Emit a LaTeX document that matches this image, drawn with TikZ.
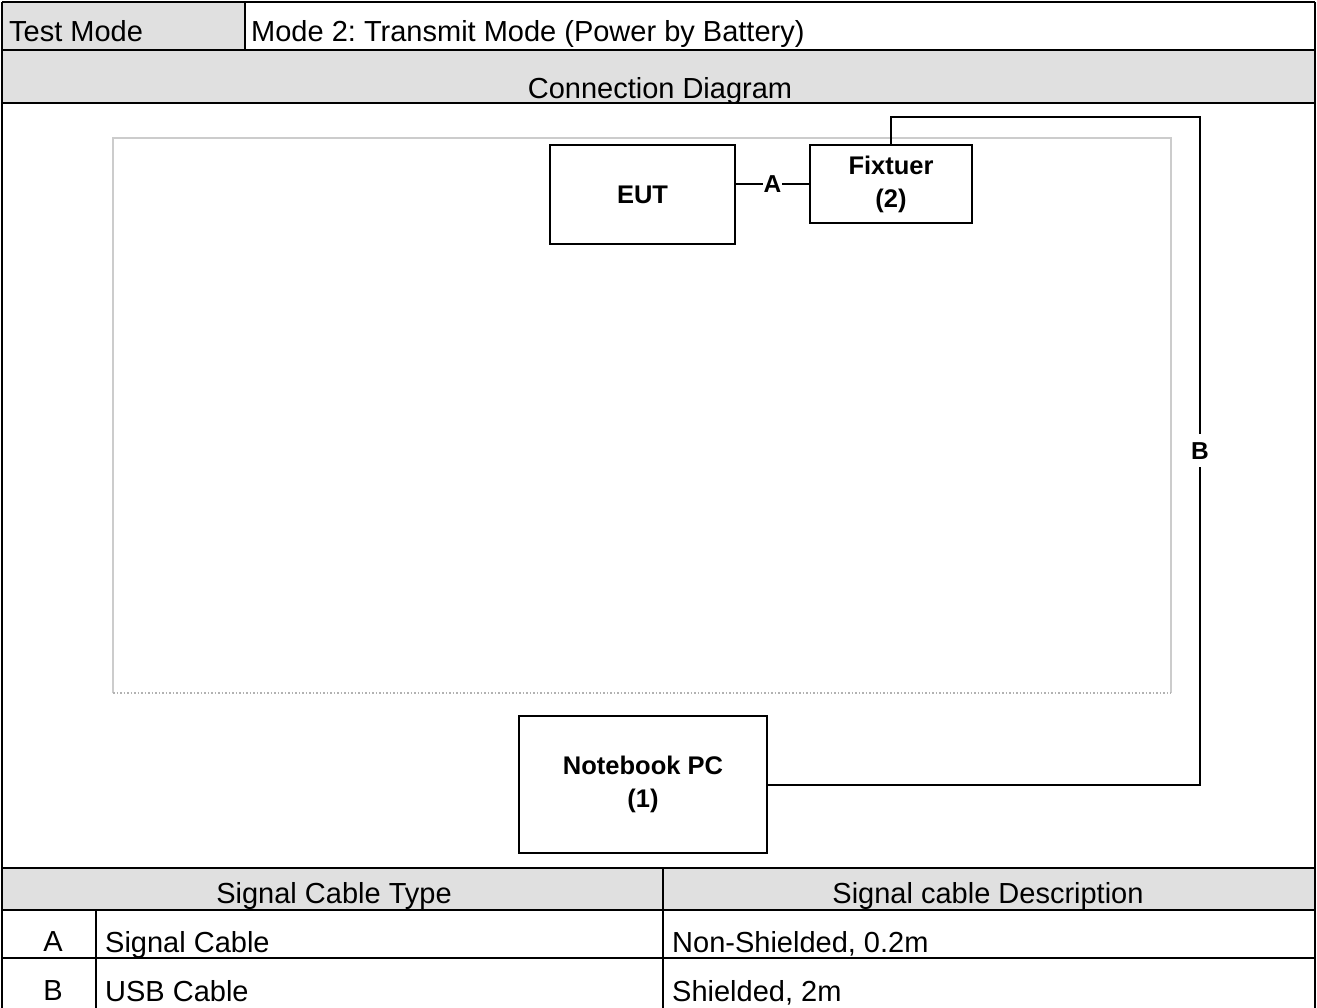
\documentclass[tikz,border=0pt]{standalone}
\usepackage{fontspec}
\setmainfont{Liberation Sans}
\begin{document}
\frenchspacing
\begin{tikzpicture}[x=1pt,y=-1pt,
  grid/.style={line width=2.6pt,black},
  hdr/.style={fill=black!12},
  txt/.style={inner sep=0pt,anchor=base,font=\fontsize{29}{33}\selectfont},
  ltxt/.style={txt,anchor=base west},
  dbox/.style={draw,line width=2.6pt,inner sep=0pt,align=center,font=\fontsize{25.5}{33}\selectfont\bfseries},
  wire/.style={line width=2pt},
  lbl/.style={fill=white,inner xsep=0.5pt,inner ysep=8pt,font=\fontsize{24.5}{26}\selectfont\bfseries}]
\useasboundingbox (0,0) rectangle (1317,1008);
% header fills
\fill[hdr] (2,2) rectangle (245,50);
\fill[hdr] (2,50) rectangle (1315,103);
\fill[hdr] (2,868) rectangle (1315,910);
% grid lines
\draw[grid] (2,2) -- (1315,2);
\draw[grid] (2,2) -- (2,1012);
\draw[grid] (1315,2) -- (1315,1012);
\draw[grid] (2,50) -- (1315,50);
\draw[grid] (2,103) -- (1315,103);
\draw[grid] (2,868) -- (1315,868);
\draw[grid] (2,910) -- (1315,910);
\draw[grid] (2,958) -- (1315,958);
\draw[grid] (245,2) -- (245,50);
\draw[grid] (663,868) -- (663,1012);
\draw[grid] (96,910) -- (96,1012);
% texts
\node[ltxt] (tm) at (9,42) {Test Mode};
\node[ltxt] (md) at (251,42) {Mode 2: Transmit Mode (Power by Battery)};
\node[txt] (cd) at (660,99) {Connection Diagram};
\node[txt] (sct) at (334,903) {Signal Cable Type};
\node[txt] (scd) at (988,903) {Signal cable Description};
\node[txt] (ra) at (53,951) {A};
\node[ltxt] (ra1) at (105,952) {Signal Cable};
\node[ltxt] (ra2) at (672,952) {Non-Shielded, 0.2m};
\node[txt] (rb) at (53,1000) {B};
\node[ltxt] (rb1) at (105,1001) {USB Cable};
\node[ltxt] (rb2) at (672,1001) {Shielded, 2m};
% inner area
\draw[black!20,line width=1.5pt] (113,693) -- (113,138) -- (1171,138) -- (1171,693);
\draw[black!30,line width=1.5pt,dotted] (113,693) -- (1171,693);
% diagram boxes
\node[dbox,minimum width=185pt,minimum height=99pt] (eut) at (642.5,194.5) {EUT};
\node[dbox,minimum width=162pt,minimum height=78pt] (fix) at (891,184) {Fixtuer\\(2)};
\node[dbox,minimum width=248pt,minimum height=137pt] (nb) at (643,784.5) {Notebook PC\\(1)};
\coordinate (bc) at (1200,117);
\draw[wire] (eut.east |- fix.west) -- node[lbl]{A} (fix.west);
\draw[wire] (fix.north) |- (bc) -- node[lbl]{B} (bc |- nb.east) -- (nb.east);
\end{tikzpicture}
\end{document}
